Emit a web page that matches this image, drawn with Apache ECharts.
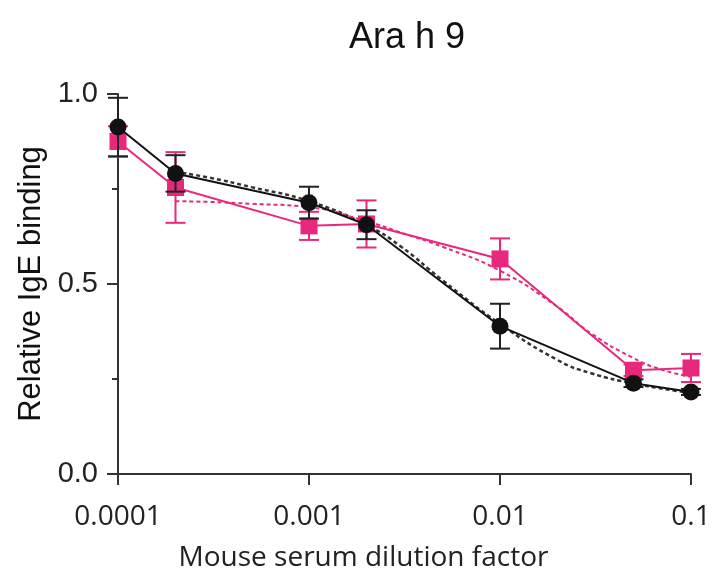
<!DOCTYPE html>
<html>
<head>
<meta charset="utf-8">
<script src="https://cdn.jsdelivr.net/npm/echarts@6/dist/echarts.min.js"></script>
<style>
  html, body { margin: 0; padding: 0; background: #fff; }
  #chartAra { width: 717px; height: 578px; }
</style>
</head>
<body>
<div id="chartAra"></div>
<script>
    var dilutions = [0.0001, 0.0002, 0.001, 0.002, 0.01, 0.05, 0.1];
    var blackMean = [0.913, 0.791, 0.714, 0.656, 0.389, 0.239, 0.216];
    var blackErr  = [0.077, 0.048, 0.042, 0.038, 0.059, 0.010, 0.008];
    var pinkMean  = [0.875, 0.754, 0.653, 0.658, 0.566, 0.273, 0.279];
    var pinkErr   = [0.040, 0.093, 0.037, 0.062, 0.054, 0.015, 0.037];

    // fitted (dashed) curves
    var fitX     = [0.0002, 0.0003, 0.0005, 0.001, 0.002, 0.003, 0.005, 0.01, 0.02, 0.03, 0.05, 0.07, 0.1];
    var blackFit = [0.795, 0.780, 0.755, 0.718, 0.655, 0.600, 0.510, 0.395, 0.300, 0.265, 0.238, 0.225, 0.213];
    var pinkFit  = [0.718, 0.716, 0.711, 0.702, 0.665, 0.636, 0.598, 0.535, 0.440, 0.370, 0.305, 0.275, 0.256];

    var xTickLabels = {"0.0001": "0.0001", "0.001": "0.001", "0.01": "0.01", "0.1": "0.1"};

    var BLACK = '#111111';
    var PINK = '#e8287c';

    function pairs(xs, ys){
      var out = [];
      for(var i=0; i < xs.length; i++){
        out.push([xs[i], ys[i]]);
      }
      return out;
    }

    function errData(mean, err){
      var out = [];
      for(var i=0; i < dilutions.length; i++){
        out.push([dilutions[i], mean[i] - err[i], mean[i] + err[i]]);
      }
      return out;
    }

    function errorBar(color){
      return function(params, api){
        var x = api.value(0);
        var top = api.coord([x, api.value(2)]);
        var bot = api.coord([x, api.value(1)]);
        var w = 10;
        var st = { stroke: color, lineWidth: 2 };
        return {
          type: 'group',
          children: [
            { type: 'line', shape: { x1: top[0], y1: top[1], x2: bot[0], y2: bot[1] }, style: st },
            { type: 'line', shape: { x1: top[0] - w, y1: top[1], x2: top[0] + w, y2: top[1] }, style: st },
            { type: 'line', shape: { x1: bot[0] - w, y1: bot[1], x2: bot[0] + w, y2: bot[1] }, style: st }
          ]
        };
      };
    }

    var chartsOption = {
      animation: false,
      title: {
        text: 'Ara h 9',
        left: 344,
        top: 15,
        textStyle: { fontFamily: 'Liberation Sans, Arial', fontSize: 36, fontWeight: 'normal', color: '#111' }
      },
      grid: { left: 118, right: 26, top: 94, bottom: 104 },
      xAxis: {
        type: 'log',
        logBase: 10,
        min: 0.0001,
        max: 0.1,
        name: 'Mouse serum dilution factor',
        nameLocation: 'middle',
        nameGap: 70,
        nameTextStyle: { fontFamily: 'Open Sans', fontSize: 28, color: '#222', padding: [0, 82, 0, 0] },
        axisLine: { lineStyle: { color: '#333', width: 2 } },
        axisTick: { show: true, length: 11, lineStyle: { color: '#333', width: 2 } },
        minorTick: { show: false },
        splitLine: { show: false },
        axisLabel: {
          margin: 29,
          fontFamily: 'Open Sans',
          fontSize: 28,
          color: '#222',
          formatter: function(v){
            var k = String(+v.toPrecision(1));
            return xTickLabels[k] !== undefined ? xTickLabels[k] : k;
          }
        }
      },
      yAxis: {
        type: 'value',
        min: 0,
        max: 1,
        interval: 0.5,
        name: 'Relative IgE binding',
        nameLocation: 'middle',
        nameGap: 71,
        nameTextStyle: { fontFamily: 'Liberation Sans, Arial', fontSize: 31, color: '#111' },
        axisLine: { show: true, lineStyle: { color: '#333', width: 2 } },
        axisTick: { show: true, length: 11, lineStyle: { color: '#333', width: 2 } },
        minorTick: { show: true, splitNumber: 2, length: 6, lineStyle: { color: '#333', width: 2 } },
        splitLine: { show: false },
        axisLabel: {
          margin: 20,
          fontFamily: 'Liberation Sans, Arial',
          fontSize: 29,
          color: '#222',
          formatter: function(v){ return v.toFixed(1); }
        }
      },
      series: [
        {
          name: 'black fit', type: 'line', data: pairs(fitX, blackFit), smooth: true, symbol: 'none',
          lineStyle: { color: '#333', width: 2.5, type: [4, 3] }, z: 2
        },
        {
          name: 'pink fit', type: 'line', data: pairs(fitX, pinkFit), smooth: true, symbol: 'none',
          lineStyle: { color: PINK, width: 2, type: [4, 3] }, z: 2
        },
        {
          name: 'pink err', type: 'custom', renderItem: errorBar(PINK), data: errData(pinkMean, pinkErr),
          encode: { x: 0, y: [1, 2] }, z: 3
        },
        {
          name: 'pink', type: 'line', data: pairs(dilutions, pinkMean), symbol: 'rect', symbolSize: 17,
          lineStyle: { color: PINK, width: 2 }, itemStyle: { color: PINK }, z: 4
        },
        {
          name: 'black err', type: 'custom', renderItem: errorBar('#222'), data: errData(blackMean, blackErr),
          encode: { x: 0, y: [1, 2] }, z: 5
        },
        {
          name: 'black', type: 'line', data: pairs(dilutions, blackMean), symbol: 'circle', symbolSize: 17,
          lineStyle: { color: BLACK, width: 2 }, itemStyle: { color: BLACK }, z: 6
        }
      ]
    };

    var myChart = echarts.init(document.getElementById("chartAra"));
    chartsOption && myChart.setOption(chartsOption, true);
</script>
</body>
</html>
